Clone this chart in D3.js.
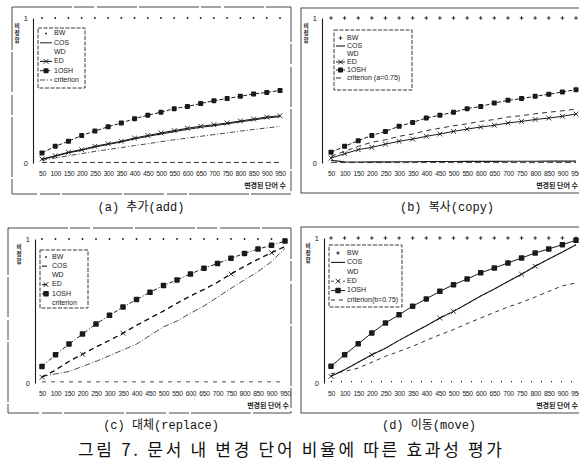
<!DOCTYPE html>
<html><head><meta charset="utf-8">
<script src="https://cdn.jsdelivr.net/npm/d3@7"></script>
<style>body{margin:0;background:#fff}svg{display:block}</style>
</head><body>
<svg id="chart" width="579" height="466"></svg>
<script>
// ---------- data ----------
const xValues = [50,100,150,200,250,300,350,400,450,500,550,600,650,700,750,800,850,900,950];
const xTickLabels = ["50","100","150","200","250","300","350","400","450","500","550","600","650","700","750","800","850","900","950"];
const yTickValues = [0, 1];
const seriesNames = ["BW","COS","WD","ED","1OSH","criterion"];
const legendA = ["BW","COS","WD","ED","1OSH","criterion"];
const legendB = ["BW","COS","WD","ED","1OSH","criterion (a=0.75)"];
const legendC = ["BW","COS","WD","ED","1OSH","criterion"];
const legendD = ["BW","COS","WD","ED","1OSH","criterion(b=0.75)"];
const xTitle = "변경된 단어 수";
const yTitle = ["비","정","합"];
const captions = ["(a) 추가(add)","(b) 복사(copy)","(c) 대체(replace)","(d) 이동(move)"];
const figureTitle = "그림 7. 문서 내 변경 단어 비율에 따른 효과성 평가";

// (a) add
const aBW   = [1,1,1,1,1,1,1,1,1,1,1,1,1,1,1,1,1,1,1];
const aCOS  = [0.025,0.046,0.070,0.088,0.110,0.128,0.145,0.166,0.184,0.200,0.216,0.232,0.246,0.257,0.270,0.284,0.297,0.310,0.320];
const aWD   = [0.004,0.004,0.004,0.004,0.004,0.004,0.004,0.004,0.004,0.004,0.004,0.004,0.004,0.004,0.004,0.004,0.004,0.004,0.004];
const aED   = [0.028,0.050,0.074,0.092,0.115,0.133,0.150,0.172,0.190,0.207,0.223,0.240,0.253,0.264,0.276,0.290,0.303,0.317,0.326];
const aOSH  = [0.069,0.115,0.150,0.190,0.220,0.250,0.276,0.306,0.330,0.350,0.375,0.390,0.410,0.430,0.444,0.460,0.476,0.487,0.500];
const aCrit = [0.018,0.035,0.050,0.065,0.080,0.093,0.106,0.120,0.133,0.147,0.160,0.172,0.184,0.196,0.208,0.220,0.231,0.242,0.252];
// (b) copy
const bBW   = [1,1,1,1,1,1,1,1,1,1,1,1,1,1,1,1,1,1,1];
const bCOS  = [0.018,0.008,0.007,0.008,0.008,0.009,0.009,0.010,0.010,0.010,0.011,0.011,0.011,0.012,0.012,0.012,0.013,0.013,0.013];
const bWD   = [0.003,0.003,0.003,0.003,0.003,0.003,0.003,0.003,0.003,0.003,0.003,0.003,0.003,0.003,0.003,0.003,0.003,0.003,0.003];
const bED   = [0.034,0.064,0.092,0.108,0.130,0.150,0.165,0.184,0.200,0.218,0.234,0.248,0.260,0.276,0.287,0.300,0.310,0.322,0.338];
const bOSH  = [0.074,0.115,0.154,0.190,0.218,0.253,0.280,0.310,0.330,0.350,0.375,0.390,0.414,0.432,0.444,0.460,0.474,0.490,0.506];
const bCrit = [0.046,0.080,0.115,0.143,0.160,0.184,0.200,0.223,0.240,0.257,0.270,0.287,0.300,0.317,0.326,0.340,0.350,0.360,0.372];
// (c) replace
const cBW   = [1,1,1,1,1,1,1,1,1,1,1,1,1,1,1,1,1,1,1];
const cCOS  = [0.040,0.090,0.150,0.200,0.250,0.296,0.346,0.400,0.450,0.500,0.554,0.605,0.650,0.700,0.757,0.810,0.860,0.905,0.947];
const cWD   = [0.008,0.008,0.008,0.008,0.008,0.008,0.008,0.008,0.008,0.008,0.008,0.008,0.008,0.008,0.008,0.008,0.008,0.008,0.008];
const cED   = [0.040,0.090,0.150,0.200,0.250,0.296,0.346,0.400,0.450,0.500,0.554,0.605,0.650,0.700,0.757,0.810,0.860,0.905,0.947];
const cOSH  = [0.115,0.196,0.270,0.340,0.410,0.470,0.527,0.580,0.630,0.677,0.716,0.757,0.797,0.830,0.866,0.900,0.930,0.956,0.986];
const cCrit = [0.046,0.063,0.080,0.115,0.150,0.190,0.230,0.270,0.330,0.390,0.430,0.485,0.535,0.596,0.658,0.716,0.774,0.843,0.935];
// (d) move
const dBW   = [1,1,1,1,1,1,1,1,1,1,1,1,1,1,1,1,1,1,1];
const dCOS  = [0.046,0.092,0.143,0.195,0.240,0.294,0.345,0.395,0.448,0.494,0.547,0.600,0.648,0.700,0.750,0.805,0.855,0.903,0.954];
const dWD   = [0.010,0.010,0.010,0.010,0.010,0.010,0.010,0.010,0.010,0.010,0.010,0.010,0.010,0.010,0.010,0.010,0.010,0.010,0.010];
const dED   = [0.046,0.092,0.143,0.195,0.240,0.294,0.345,0.395,0.448,0.494,0.547,0.600,0.648,0.700,0.750,0.805,0.855,0.903,0.954];
const dOSH  = [0.115,0.195,0.270,0.345,0.414,0.470,0.530,0.580,0.632,0.678,0.717,0.760,0.793,0.828,0.862,0.897,0.924,0.954,0.984];
const dCrit = [0.064,0.080,0.103,0.143,0.184,0.218,0.253,0.294,0.333,0.368,0.410,0.448,0.487,0.524,0.556,0.593,0.632,0.670,0.690];

// ---------- layout / styles ----------
const INK = "#1a1a1a";
const panels = [
  { frame:[12,7,279,187], yAxisX:33, x0:42, x1:280, yTop:18, yBot:163, titleEnd:286,
    legend:{x:38,y:28,w:47,h:60,row0:33.5,step:9.3,sx0:40,sx1:52,tx:54}, labels:legendA,
    data:{BW:aBW,COS:aCOS,WD:aWD,ED:aED,"1OSH":aOSH,criterion:aCrit},
    style:{
      BW:{marker:"dot"}, COS:{dash:null,w:1}, WD:{dash:"5,3",w:0.9,noLegend:true},
      ED:{dash:null,w:1.1,marker:"x"}, "1OSH":{dash:"4,2",w:1,marker:"square",ms:5},
      criterion:{dash:"5,2,1,2",w:0.8}
    }, caption:{x:141,y:208} },
  { frame:[301,8,300,185], yAxisX:322, x0:331, x1:576, yTop:18, yBot:163, titleEnd:578,
    legend:{x:334,y:30,w:78,h:60,row0:38,step:8,sx0:336,sx1:345,tx:347}, labels:legendB,
    data:{BW:bBW,COS:bCOS,WD:bWD,ED:bED,"1OSH":bOSH,criterion:bCrit},
    style:{
      BW:{marker:"plus"}, COS:{dash:null,w:1.1}, WD:{dash:"6,3",w:0.8,noLegend:true},
      ED:{dash:null,w:1,marker:"x"}, "1OSH":{dash:"4,2",w:1,marker:"square",ms:5},
      criterion:{dash:"5,4",w:0.9}
    }, caption:{x:447,y:208} },
  { frame:[8,228,283,185], yAxisX:35, x0:42, x1:285, yTop:239, yBot:383, titleEnd:289,
    legend:{x:40,y:250,w:48,h:58,row0:257,step:9.2,sx0:42,sx1:50,tx:52}, labels:legendC,
    data:{BW:cBW,COS:cCOS,WD:cWD,ED:cED,"1OSH":cOSH,criterion:cCrit},
    style:{
      BW:{marker:"dot"}, COS:{dash:"5,4",w:1.1}, WD:{dash:"4,5",w:0.8,noLegend:true},
      ED:{dash:"5,4",w:1.1,marker:"x",marks:[0,3,6,14,17]}, "1OSH":{dash:"4,2,1,2",w:1,marker:"square",ms:5.5},
      criterion:{dash:"6,2,1,2",w:0.8,noLegend:true}
    }, caption:{x:161,y:426} },
  { frame:[301,227,300,186], yAxisX:324, x0:331, x1:576, yTop:238, yBot:383, titleEnd:578,
    legend:{x:329,y:245,w:73,h:62,row0:253,step:9.4,sx0:331,sx1:345,tx:347}, labels:legendD,
    data:{BW:dBW,COS:dCOS,WD:dWD,ED:dED,"1OSH":dOSH,criterion:dCrit},
    style:{
      BW:{marker:"plus"}, COS:{dash:null,w:1.1}, WD:{dash:"1,9",w:1.2,noLegend:true},
      ED:{dash:"3,3",w:0.8,marker:"x",marks:[0,3,8,9,14,15]}, "1OSH":{dash:null,w:1,marker:"square",ms:5.5},
      criterion:{dash:"4,4",w:0.9}
    }, caption:{x:429,y:426} }
];

const svg = d3.select("#chart");
svg.append("rect").attr("width",579).attr("height",466).attr("fill","#fff");

function drawMarker(g, type, cx, cy, size){
  if(type==="dot"){
    g.append("circle").attr("cx",cx).attr("cy",cy).attr("r",0.9).attr("fill",INK);
  } else if(type==="plus"){
    const s=1.8;
    g.append("path").attr("d",`M${cx-s},${cy}H${cx+s}M${cx},${cy-s}V${cy+s}`).attr("stroke",INK).attr("stroke-width",0.9);
  } else if(type==="x"){
    const s=2.4;
    g.append("path").attr("d",`M${cx-s},${cy-s}L${cx+s},${cy+s}M${cx-s},${cy+s}L${cx+s},${cy-s}`).attr("stroke",INK).attr("stroke-width",0.9);
  } else if(type==="square"){
    const s=(size||5)/2;
    g.append("rect").attr("x",cx-s).attr("y",cy-s).attr("width",2*s).attr("height",2*s).attr("rx",0.8).attr("fill",INK);
  }
}

panels.forEach((p, pi) => {
  const g = svg.append("g");
  const [fx,fy,fw,fh] = p.frame;
  g.append("rect").attr("x",fx).attr("y",fy).attr("width",fw).attr("height",fh)
    .attr("fill","none").attr("stroke","#333").attr("stroke-width",0.9)
    .attr("stroke-dasharray", pi%2===0 ? "60,2,20,3,40,2" : null);

  const x = d3.scaleLinear().domain([50,950]).range([p.x0,p.x1]);
  const y = d3.scaleLinear().domain([0,1]).range([p.yBot,p.yTop]);

  // y axis
  const ya = g.append("g").attr("transform",`translate(${p.yAxisX},0)`)
    .call(d3.axisLeft(y).tickValues(yTickValues).tickSize(0).tickPadding(5).tickFormat(d3.format("d")));
  ya.select(".domain").attr("stroke",INK).attr("stroke-width",1.1);
  ya.selectAll("text").attr("font-family","Liberation Sans, Arial, sans-serif").attr("font-size",7.5).attr("fill",INK);

  // x axis (labels only)
  const xa = g.append("g").attr("transform",`translate(0,${p.yBot})`)
    .call(d3.axisBottom(x).tickValues(xValues).tickSize(0).tickPadding(8.5)
      .tickFormat((d,i)=>xTickLabels[i]));
  xa.select(".domain").remove();
  xa.selectAll("text").attr("font-family","Liberation Sans, Arial, sans-serif").attr("font-size",6.8)
    .attr("letter-spacing",-0.3).attr("fill",INK);

  // x title
  g.append("text").attr("x",p.titleEnd).attr("y",p.yBot+25).attr("text-anchor","end")
    .attr("font-family","Noto Sans CJK KR, sans-serif").attr("font-size",7).attr("font-weight",700)
    .attr("fill",INK).text(xTitle);

  // y title (vertical)
  yTitle.forEach((ch,i)=>{
    g.append("text").attr("x",p.yAxisX-16).attr("y",p.yTop+8+i*7).attr("text-anchor","middle")
      .attr("dominant-baseline","middle")
      .attr("font-family","Noto Sans CJK KR, sans-serif").attr("font-size",5.6).attr("font-weight",700)
      .attr("fill",INK).text(ch);
  });

  // series
  const line = d3.line().x((d,i)=>x(xValues[i])).y(d=>y(d));
  seriesNames.forEach(name=>{
    const st = p.style[name], vals = p.data[name];
    if(st.w){
      g.append("path").attr("d",line(vals)).attr("fill","none").attr("stroke",INK)
        .attr("stroke-width",st.w).attr("stroke-dasharray",st.dash);
    }
    if(st.marker){
      vals.forEach((v,i)=>{
        if(st.marks && !st.marks.includes(i)) return;
        drawMarker(g, st.marker, x(xValues[i]), y(v), st.ms);
      });
    }
  });

  // legend
  const L = p.legend;
  g.append("rect").attr("x",L.x).attr("y",L.y).attr("width",L.w).attr("height",L.h)
    .attr("fill","#fff").attr("stroke","#222").attr("stroke-width",0.9).attr("stroke-dasharray","4,1.5");
  seriesNames.forEach((name,i)=>{
    const st = p.style[name], ry = L.row0 + i*L.step;
    if(!st.noLegend){
      if(st.w){
        g.append("line").attr("x1",L.sx0).attr("x2",L.sx1).attr("y1",ry).attr("y2",ry)
          .attr("stroke",INK).attr("stroke-width",st.w).attr("stroke-dasharray",st.dash);
      }
      if(st.marker) drawMarker(g, st.marker, (L.sx0+L.sx1)/2, ry, st.ms);
    }
    g.append("text").attr("x",L.tx).attr("y",ry).attr("dominant-baseline","middle")
      .attr("font-family","Liberation Sans, Arial, sans-serif").attr("font-size",7).attr("fill",INK)
      .text(p.labels[i]);
  });

  // caption
  svg.append("text").attr("x",p.caption.x).attr("y",p.caption.y).attr("text-anchor","middle")
    .attr("dominant-baseline","middle")
    .attr("font-family","Liberation Mono, Noto Sans CJK KR, monospace").attr("font-size",12)
    .attr("fill","#111").text(captions[pi]);
});

svg.append("text").attr("x",290).attr("y",451).attr("text-anchor","middle")
  .attr("dominant-baseline","middle")
  .attr("font-family","Noto Sans CJK KR, sans-serif").attr("font-size",17)
  .attr("textLength",424).attr("lengthAdjust","spacing")
  .attr("fill","#111").text(figureTitle);
</script>
</body></html>
